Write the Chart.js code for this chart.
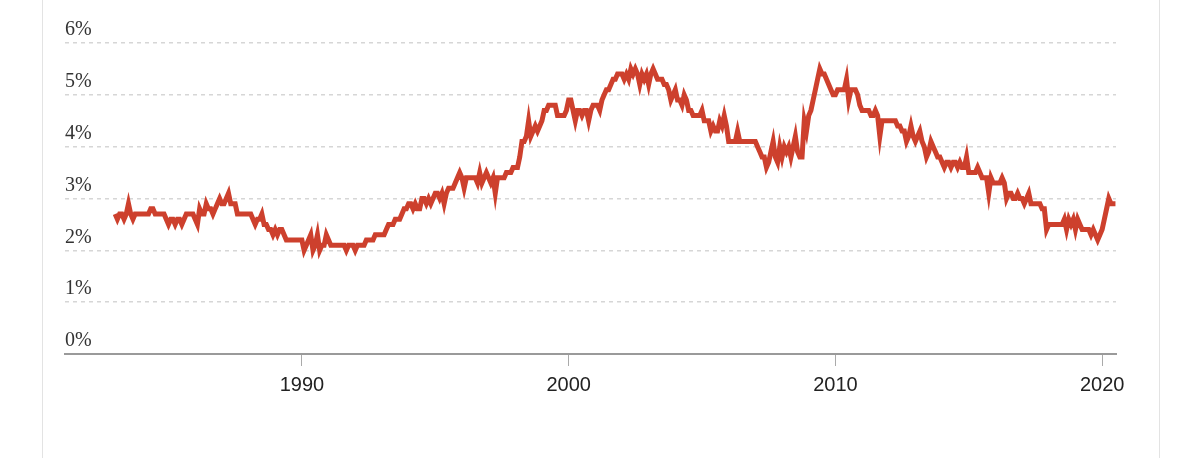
<!DOCTYPE html>
<html>
<head>
<meta charset="utf-8">
<script src="https://cdn.jsdelivr.net/npm/chart.js@4"></script>
<style>
  html, body { margin: 0; padding: 0; background: #fff; }
  #wrap { position: relative; width: 1200px; height: 458px; }
  #frame { position: absolute; left: 42px; top: 0; width: 1116px; height: 458px;
           border-left: 1px solid #e3e3e3; border-right: 1px solid #e3e3e3; }
  canvas { position: absolute; left: 0; top: 0; }
</style>
</head>
<body>
<div id="wrap">
  <div id="frame"></div>
  <canvas id="grafico" width="1200" height="458"></canvas>
</div>
<script>
// serie mensal, começa em jan/1983
const anoInicial = 1983;

// 1983 - 1989
const taxas1980 = [
  2.7,2.6,2.7,2.7,2.6,2.7,2.9,2.7,2.6,2.7,2.7,2.7,
  2.7,2.7,2.7,2.7,2.8,2.8,2.7,2.7,2.7,2.7,2.7,2.6,
  2.5,2.6,2.6,2.5,2.6,2.6,2.5,2.6,2.7,2.7,2.7,2.7,
  2.6,2.5,2.8,2.7,2.7,2.9,2.8,2.8,2.7,2.8,2.9,3.0,
  2.9,2.9,3.0,3.1,2.9,2.9,2.9,2.7,2.7,2.7,2.7,2.7,
  2.7,2.7,2.6,2.5,2.6,2.6,2.7,2.5,2.5,2.4,2.4,2.3,
  2.4,2.3,2.4,2.4,2.3,2.2,2.2,2.2,2.2,2.2,2.2,2.2
];

// 1990 - 1999
const taxas1990 = [
  2.2,2.0,2.1,2.2,2.3,2.0,2.1,2.3,2.0,2.1,2.1,2.3,
  2.2,2.1,2.1,2.1,2.1,2.1,2.1,2.1,2.0,2.1,2.1,2.1,
  2.0,2.1,2.1,2.1,2.1,2.2,2.2,2.2,2.2,2.3,2.3,2.3,
  2.3,2.3,2.4,2.5,2.5,2.5,2.6,2.6,2.6,2.7,2.8,2.8,
  2.9,2.9,2.8,2.9,2.8,2.8,3.0,3.0,2.9,3.0,2.9,3.0,
  3.1,3.1,3.0,3.1,2.9,3.1,3.2,3.2,3.2,3.3,3.4,3.5,
  3.4,3.2,3.4,3.4,3.4,3.4,3.4,3.3,3.5,3.3,3.4,3.5,
  3.4,3.3,3.4,3.1,3.4,3.4,3.4,3.4,3.5,3.5,3.5,3.6,
  3.6,3.6,3.8,4.1,4.1,4.2,4.5,4.2,4.3,4.4,4.3,4.4,
  4.5,4.7,4.7,4.8,4.8,4.8,4.8,4.6,4.6,4.6,4.6,4.7
];

// 2000 - 2009
const taxas2000 = [
  4.9,4.9,4.7,4.5,4.7,4.7,4.6,4.7,4.7,4.5,4.7,4.8,
  4.8,4.8,4.7,4.9,5.0,5.1,5.1,5.2,5.3,5.3,5.4,5.4,
  5.4,5.3,5.4,5.3,5.5,5.4,5.5,5.4,5.2,5.4,5.3,5.4,
  5.2,5.4,5.5,5.4,5.3,5.3,5.3,5.2,5.2,5.1,4.9,5.0,
  5.1,4.9,4.9,4.8,5.0,4.9,4.7,4.7,4.6,4.6,4.6,4.6,
  4.7,4.5,4.5,4.5,4.3,4.4,4.3,4.3,4.5,4.4,4.6,4.4,
  4.1,4.1,4.1,4.1,4.3,4.1,4.1,4.1,4.1,4.1,4.1,4.1,
  4.1,4.0,3.9,3.8,3.8,3.6,3.7,3.9,4.1,3.8,3.7,4.0,
  3.8,4.0,3.9,4.0,3.8,4.0,4.2,3.9,3.8,3.8,4.5,4.3,
  4.6,4.7,4.9,5.1,5.3,5.5,5.4,5.4,5.3,5.2,5.1,5.0
];

// 2010 - 2019
const taxas2010 = [
  5.0,5.1,5.1,5.1,5.1,5.3,4.9,5.1,5.1,5.1,5.0,4.8,
  4.7,4.7,4.7,4.7,4.6,4.6,4.7,4.6,4.2,4.5,4.5,4.5,
  4.5,4.5,4.5,4.5,4.4,4.4,4.3,4.3,4.1,4.2,4.4,4.2,
  4.1,4.2,4.3,4.1,4.0,3.8,3.9,4.1,4.0,3.9,3.8,3.8,
  3.7,3.6,3.7,3.7,3.6,3.7,3.7,3.6,3.7,3.6,3.6,3.8,
  3.5,3.5,3.5,3.5,3.6,3.5,3.4,3.4,3.4,3.1,3.4,3.3,
  3.3,3.3,3.3,3.4,3.3,3.0,3.1,3.1,3.0,3.0,3.1,3.0,
  3.0,2.9,3.0,3.1,2.9,2.9,2.9,2.9,2.9,2.8,2.8,2.4,
  2.5,2.5,2.5,2.5,2.5,2.5,2.5,2.6,2.4,2.6,2.5,2.6,
  2.4,2.6,2.5,2.4,2.4,2.4,2.4,2.3,2.4,2.3,2.2,2.3
];

// jan - jul 2020
const taxas2020 = [2.4,2.6,2.8,3.0,2.9,2.9,2.9];

const anosEixo = [1990, 2000, 2010, 2020];
const percentuais = [0, 1, 2, 3, 4, 5, 6];

const taxas = [...taxas1980, ...taxas1990, ...taxas2000, ...taxas2010, ...taxas2020];
const pontos = taxas.map((valor, i) => ({ x: anoInicial + i / 12, y: valor }));

new Chart(document.getElementById("grafico").getContext("2d"), {
  type: "line",
  data: {
    datasets: [{
      data: pontos,
      borderColor: "#cd402d",
      borderWidth: 5,
      pointRadius: 0,
      tension: 0,
      fill: false
    }]
  },
  options: {
    responsive: false,
    animation: false,
    devicePixelRatio: 1,
    layout: { padding: { left: 65, right: 84, top: 43, bottom: 0 } },
    plugins: {
      legend: { display: false },
      tooltip: { enabled: false }
    },
    scales: {
      x: {
        type: "linear",
        min: 1981.12,
        max: 2020.52,
        afterBuildTicks: scale => { scale.ticks = anosEixo.map(v => ({ value: v })); },
        afterFit: scale => { scale.height = 104; },
        ticks: {
          callback: v => String(v),
          font: { family: "Liberation Sans", size: 20 },
          color: "#222",
          padding: 7,
          maxRotation: 0
        },
        grid: { drawOnChartArea: false, drawTicks: true, tickLength: 12, color: "#aaa", lineWidth: 1 },
        border: { display: true, color: "#9a9a9a", width: 2 }
      },
      y: {
        min: 0,
        max: 6,
        afterBuildTicks: scale => { scale.ticks = percentuais.map(v => ({ value: v })); },
        afterFit: scale => { scale.width = 0; },
        ticks: {
          mirror: true,
          padding: 0,
          labelOffset: -13,
          callback: v => v + "%",
          font: { family: "Liberation Serif", size: 20 },
          color: "#333"
        },
        grid: {
          drawTicks: false,
          lineWidth: 1.5,
          color: ctx => ctx.tick && ctx.tick.value === 0 ? "rgba(0,0,0,0)" : "#d6d6d6"
        },
        border: { display: false, dash: [4, 4] }
      }
    }
  }
});
</script>
</body>
</html>
